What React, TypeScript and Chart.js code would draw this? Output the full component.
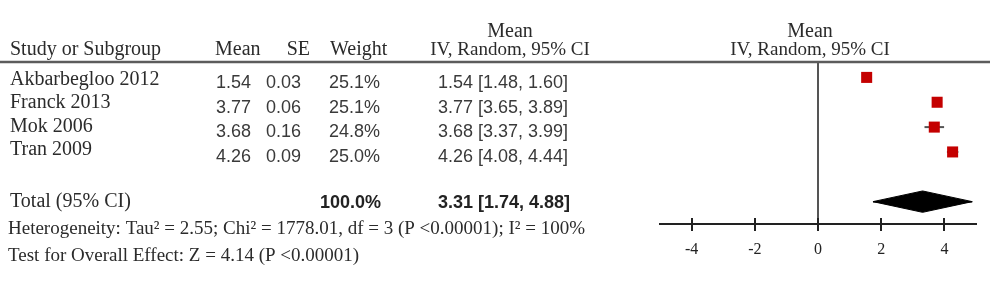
import React, { useEffect, useRef } from "react";
import { Chart, registerables } from "chart.js";

Chart.register(...registerables);

// ---- data ----
const studies = ["Akbarbegloo 2012", "Franck 2013", "Mok 2006", "Tran 2009"];
const means = [1.54, 3.77, 3.68, 4.26];
const ses = [0.03, 0.06, 0.16, 0.09];
const weights = [25.1, 25.1, 24.8, 25.0];
const ciLow = [1.48, 3.65, 3.37, 4.08];
const ciHigh = [1.6, 3.89, 3.99, 4.44];
const totalLabel = "Total (95% CI)";
const totalWeight = 100.0;
const totalMean = 3.31;
const totalLow = 1.74;
const totalHigh = 4.88;
const heterogeneityText =
  "Heterogeneity: Tau² = 2.55; Chi² = 1778.01, df = 3 (P <0.00001); I² = 100%";
const overallEffectText = "Test for Overall Effect: Z = 4.14 (P <0.00001)";
const xTicks = [-4, -2, 0, 2, 4];
const xMin = -5;
const xMax = 5;
const headerMain = ["Study or Subgroup", "Mean", "SE", "Weight"];
const headerEffect = ["Mean", "IV, Random, 95% CI"];

// ---- layout / style constants ----
const SERIF = "'Liberation Serif', 'Times New Roman', serif";
const SANS = "'Liberation Sans', Arial, sans-serif";
const TOTAL_ROW = 5;
const DIAMOND_HALF = 0.43;

const fmtCI = (m: number, lo: number, hi: number) =>
  `${m.toFixed(2)} [${lo.toFixed(2)}, ${hi.toFixed(2)}]`;

const tablePlugin = {
  id: "forestTable",
  afterDraw(chart: any) {
    const ctx: CanvasRenderingContext2D = chart.ctx;
    const xs = chart.scales.x;
    const area = chart.chartArea;
    ctx.save();

    // header rule
    ctx.strokeStyle = "#5c5c5c";
    ctx.lineWidth = 2.5;
    ctx.beginPath();
    ctx.moveTo(0, area.top);
    ctx.lineTo(990, area.top);
    ctx.stroke();

    // tick marks above axis
    ctx.strokeStyle = "#222";
    ctx.lineWidth = 2;
    xTicks.forEach((v) => {
      const px = Math.round(xs.getPixelForValue(v));
      ctx.beginPath();
      ctx.moveTo(px, area.bottom - 6);
      ctx.lineTo(px, area.bottom);
      ctx.stroke();
    });

    ctx.textBaseline = "alphabetic";
    // headers
    ctx.fillStyle = "#2b2b2b";
    ctx.font = `20px ${SERIF}`;
    ctx.textAlign = "left";
    ctx.fillText(headerMain[0], 10, 55);
    ctx.fillText(headerMain[1], 215, 55);
    ctx.textAlign = "right";
    ctx.fillText(headerMain[2], 310, 55);
    ctx.textAlign = "left";
    ctx.fillText(headerMain[3], 330, 55);
    ctx.textAlign = "center";
    ctx.fillText(headerEffect[0], 510, 37);
    ctx.fillText(headerEffect[0], 810, 37);
    ctx.font = `19px ${SERIF}`;
    ctx.fillText(headerEffect[1], 510, 55);
    ctx.fillText(headerEffect[1], 810, 55);

    // study rows
    studies.forEach((s, i) => {
      const nameBase = 85 + i * 23.3;
      const numBase = 88 + i * 24.5;
      ctx.fillStyle = "#2b2b2b";
      ctx.font = `20px ${SERIF}`;
      ctx.textAlign = "left";
      ctx.fillText(s, 10, nameBase);
      ctx.fillStyle = "#3a3a3a";
      ctx.font = `18px ${SANS}`;
      ctx.fillText(means[i].toFixed(2), 216, numBase);
      ctx.textAlign = "right";
      ctx.fillText(ses[i].toFixed(2), 301, numBase);
      ctx.textAlign = "left";
      ctx.fillText(`${weights[i].toFixed(1)}%`, 329, numBase);
      ctx.fillText(fmtCI(means[i], ciLow[i], ciHigh[i]), 438, numBase);
    });

    // total row
    ctx.fillStyle = "#2b2b2b";
    ctx.font = `20px ${SERIF}`;
    ctx.textAlign = "left";
    ctx.fillText(totalLabel, 10, 207);
    ctx.fillStyle = "#222";
    ctx.font = `bold 18px ${SANS}`;
    ctx.fillText(`${totalWeight.toFixed(1)}%`, 320, 208);
    ctx.fillText(fmtCI(totalMean, totalLow, totalHigh), 438, 208);

    // footnotes
    ctx.fillStyle = "#2b2b2b";
    ctx.font = `19px ${SERIF}`;
    ctx.fillText(heterogeneityText, 8, 234);
    ctx.fillText(overallEffectText, 8, 261);

    ctx.restore();
  },
};

export default function App() {
  const ref = useRef<HTMLCanvasElement | null>(null);

  useEffect(() => {
    if (!ref.current) return;

    const ciSets = studies.map((s, i) => ({
      label: `${s} CI`,
      data: [
        { x: ciLow[i], y: i },
        { x: ciHigh[i], y: i },
      ],
      showLine: true,
      borderColor: "#555",
      borderWidth: 2,
      pointRadius: 0,
      fill: false,
      order: 2,
    }));

    const squares = {
      label: "Mean",
      data: means.map((m, i) => ({ x: m, y: i })),
      showLine: false,
      pointStyle: "rect",
      pointRadius: 7.8,
      pointBackgroundColor: "#c40000",
      pointBorderWidth: 0,
      borderWidth: 0,
      order: 0,
    };

    const diamondTop = {
      label: "Total top",
      data: [
        { x: totalLow, y: TOTAL_ROW },
        { x: totalMean, y: TOTAL_ROW - DIAMOND_HALF },
        { x: totalHigh, y: TOTAL_ROW },
      ],
      showLine: true,
      borderColor: "#000",
      backgroundColor: "#000",
      borderWidth: 1,
      pointRadius: 0,
      tension: 0,
      fill: { value: TOTAL_ROW },
      order: 1,
    };
    const diamondBottom = {
      ...diamondTop,
      label: "Total bottom",
      data: [
        { x: totalLow, y: TOTAL_ROW },
        { x: totalMean, y: TOTAL_ROW + DIAMOND_HALF },
        { x: totalHigh, y: TOTAL_ROW },
      ],
    };
    const diamondMid = {
      label: "Total mid",
      data: [
        { x: totalLow, y: TOTAL_ROW },
        { x: totalHigh, y: TOTAL_ROW },
      ],
      showLine: true,
      borderColor: "#000",
      borderWidth: 1.5,
      pointRadius: 0,
      fill: false,
      order: 0,
    };

    const chart = new Chart(ref.current, {
      type: "scatter",
      data: {
        datasets: [squares, ...ciSets, diamondTop, diamondBottom, diamondMid] as any,
      },
      options: {
        responsive: true,
        maintainAspectRatio: false,
        animation: false,
        layout: { padding: { left: 660, right: 24, top: 62, bottom: 0 } },
        plugins: { legend: { display: false }, tooltip: { enabled: false } },
        scales: {
          x: {
            type: "linear",
            min: xMin,
            max: xMax,
            afterBuildTicks: (s: any) => {
              s.ticks = xTicks.map((v) => ({ value: v }));
            },
            afterFit: (s: any) => {
              s.height = 64;
            },
            border: { display: true, color: "#222", width: 2 },
            grid: {
              drawOnChartArea: true,
              drawTicks: true,
              tickLength: 7,
              lineWidth: 2,
              tickColor: "#222",
              color: (c: any) =>
                c.tick && c.tick.value === 0 ? "#555" : "rgba(0,0,0,0)",
            },
            ticks: {
              autoSkip: false,
              maxRotation: 0,
              padding: 9,
              color: "#222",
              font: { family: SERIF, size: 16 },
            },
          },
          y: {
            type: "linear",
            reverse: true,
            min: -0.62,
            max: 5.9,
            display: false,
          },
        },
      } as any,
      plugins: [tablePlugin],
    });
    return () => chart.destroy();
  }, []);

  return (
    <div
      style={{
        position: "fixed",
        left: 0,
        top: 0,
        width: 1000,
        height: 288,
        background: "#fff",
      }}
    >
      <canvas ref={ref} />
    </div>
  );
}
